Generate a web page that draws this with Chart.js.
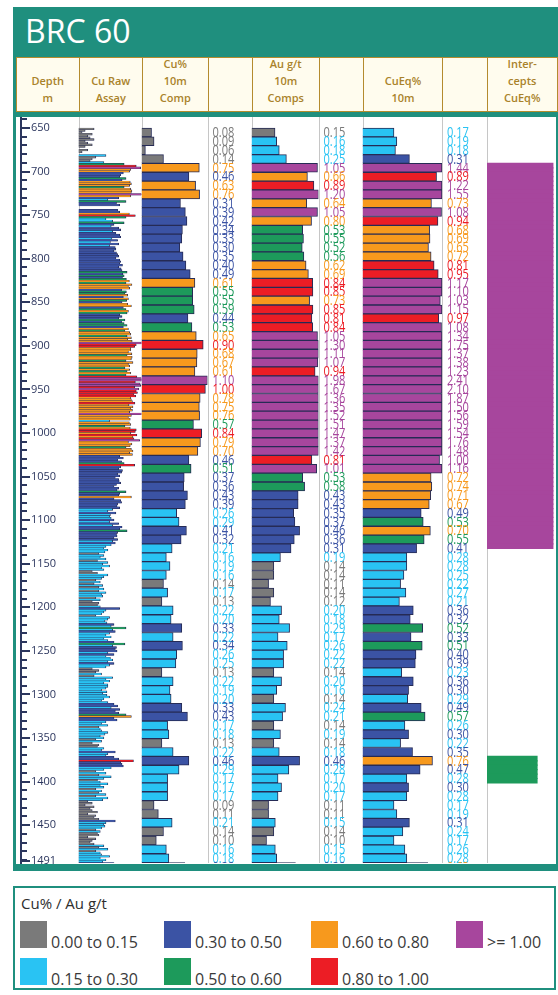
<!DOCTYPE html>
<html>
<head>
<meta charset="utf-8">
<title>BRC 60</title>
<script src="https://cdn.jsdelivr.net/npm/chart.js@4.4.1/dist/chart.umd.min.js"></script>
<style>
  html, body { margin:0; padding:0; background:#ffffff; }
  body { width:558px; height:995px; position:relative; overflow:hidden; font-family:"Open Sans", sans-serif; }
  #frame { position:absolute; left:13px; top:7px; width:545px; height:864px; background:#1f8f7e; }
  #title { position:absolute; left:25px; top:15px; color:#ffffff; font-size:32px; line-height:32px; }
  #plotBg { position:absolute; left:15.5px; top:117px; width:540.5px; height:746.5px; background:#ffffff; }
  .hcell { position:absolute; top:57px; height:55px; box-sizing:border-box; border:1.5px solid #b48b2e;
           background:#fffcee; color:#a9822a; font-size:11px; font-weight:600; line-height:17px;
           text-align:center; display:flex; flex-direction:column; justify-content:flex-end; padding-bottom:5px; }
  #chartCanvas { position:absolute; left:15px; top:117px; }
  #legend { position:absolute; left:13px; top:886px; width:543px; height:104px; box-sizing:border-box;
            border:2.5px solid #1f8f7e; background:#ffffff; }
  #legendTitle { position:absolute; left:21px; top:893px; font-size:15px; line-height:20px; color:#2e2e2e; }
  .lsw { position:absolute; width:27px; height:27px; }
  .ltx { position:absolute; font-size:16px; line-height:20px; color:#3a3a3a; white-space:nowrap; }
</style>
</head>
<body>
<div id="frame"></div>
<div id="title">BRC 60</div>
<div id="plotBg"></div>
<div id="header"></div>
<canvas id="chartCanvas" width="541" height="760"></canvas>
<div id="legend"></div>
<div id="legendTitle">Cu% / Au g/t</div>
<div id="legendItems"></div>
<script>
// ---------------- DATA ----------------
const DEPTH_FROM = 650;     // top of first composite (m)
const COMP_INTERVAL = 10;   // composite length (m)
const RAW_INTERVAL = 2;     // raw assay plotting interval (m)

const depthTickLabels = [650,700,750,800,850,900,950,1000,1050,1100,1150,1200,1250,1300,1350,1400,1450,1491];

// Cu % 10 m composites, 650 m .. 1480 m
const cuComp = [
  0.08,0.09,0.06,0.14,0.75,0.46,0.63,0.76,0.31,0.39,
  0.42,0.34,0.33,0.30,0.35,0.40,0.49,0.61,0.55,0.55,
  0.59,0.44,0.53,0.65,0.90,0.68,0.67,0.61,1.10,0.997,
  0.78,0.75,0.76,0.57,0.84,0.79,0.70,0.46,0.51,0.37,
  0.36,0.43,0.39,0.26,0.29,0.41,0.32,0.21,0.16,0.19,
  0.16,0.14,0.17,0.13,0.22,0.20,0.33,0.22,0.34,0.26,
  0.25,0.13,0.22,0.19,0.20,0.33,0.43,0.17,0.18,0.13,
  0.22,0.46,0.29,0.17,0.17,0.17,0.09,0.11,0.21,0.14,
  0.10,0.16,0.18,0.38
];
// Au g/t 10 m composites
const auComp = [
  0.148,0.16,0.18,0.25,1.05,0.66,0.89,1.20,0.64,1.05,
  0.798,0.53,0.55,0.52,0.56,0.62,0.69,0.84,0.85,0.73,
  0.85,0.81,0.84,1.05,1.30,1.11,1.07,0.94,1.98,1.67,
  1.36,1.35,1.52,1.51,1.47,1.37,1.42,0.81,1.01,0.53,
  0.58,0.43,0.43,0.35,0.37,0.46,0.36,0.31,0.19,0.14,
  0.14,0.11,0.14,0.12,0.20,0.18,0.29,0.17,0.26,0.22,
  0.22,0.14,0.20,0.16,0.14,0.24,0.21,0.14,0.19,0.14,
  0.18,0.46,0.28,0.17,0.20,0.17,0.11,0.11,0.15,0.14,
  0.10,0.15,0.16,0.38
];
// CuEq % 10 m composites
const cuEqComp = [
  0.17,0.19,0.18,0.31,1.44,0.89,1.22,1.55,0.73,1.08,
  0.94,0.68,0.69,0.65,0.72,0.81,0.95,1.17,1.10,1.03,
  1.15,0.97,1.08,1.34,1.75,1.37,1.38,1.23,2.41,2.10,
  1.87,1.50,1.56,1.59,1.54,1.76,1.48,1.00,1.16,0.72,
  0.74,0.71,0.67,0.49,0.53,0.70,0.55,0.41,0.28,0.28,
  0.25,0.22,0.27,0.21,0.36,0.32,0.52,0.33,0.51,0.40,
  0.39,0.23,0.36,0.30,0.29,0.49,0.57,0.26,0.30,0.22,
  0.35,0.76,0.47,0.28,0.30,0.28,0.17,0.19,0.31,0.24,
  0.17,0.26,0.28,0.63
];
// Cu % raw assays (2 m), 650 m .. 1490 m
const rawCu = [
  0.11,0.07,0.06,0.10,0.08, 0.09,0.11,0.07,0.08,0.10,
  0.07,0.05,0.08,0.06,0.04, 0.20,0.12,0.10,0.09,0.18,
  0.50,0.92,1.15,0.70,0.66, 0.48,0.42,0.40,0.55,0.45,
  0.68,0.72,0.66,0.50,0.70, 0.74,0.72,1.25,0.70,0.38,
  0.22,0.55,0.34,0.40,0.04, 0.04,0.36,0.40,0.65,0.88,
  0.55,0.20,0.28,0.50,0.30, 0.26,0.38,0.42,0.28,0.33,
  0.40,0.42,0.27,0.36,0.25, 0.38,0.24,0.32,0.33,0.30,
  0.34,0.36,0.38,0.33,0.40, 0.42,0.40,0.46,0.38,0.43,
  0.45,0.58,0.47,0.50,0.46, 0.56,0.65,0.55,0.74,0.62,
  0.66,0.44,0.56,0.52,0.60, 0.48,0.62,0.57,0.45,0.60,
  0.72,0.48,0.55,0.62,0.58, 0.40,0.45,0.38,0.52,0.44,
  0.50,0.58,0.48,0.62,0.52, 0.66,0.70,0.58,0.72,0.60,
  0.75,1.25,0.92,0.85,0.70, 0.70,0.62,0.74,0.58,0.75,
  0.72,0.55,0.78,0.62,0.66, 0.52,0.66,0.58,0.70,0.55,
  0.95,1.35,1.20,0.88,1.12, 1.15,0.85,1.05,0.92,0.98,
  0.82,0.90,0.70,0.72,0.76, 0.86,0.64,0.78,0.70,0.76,
  0.66,1.20,0.72,0.62,0.68, 0.24,0.65,0.70,0.52,0.68,
  0.92,0.88,0.70,0.95,0.78, 0.82,1.10,0.62,0.74,0.68,
  0.55,0.72,0.78,0.66,0.76, 0.40,0.48,0.36,0.44,0.50,
  0.85,0.42,0.38,0.46,0.44, 0.36,0.40,0.32,0.38,0.39,
  0.42,0.34,0.30,0.38,0.35, 0.55,0.40,0.38,0.72,0.30,
  0.42,0.44,0.36,0.35,0.40, 0.28,0.22,0.33,0.25,0.24,
  0.26,0.30,0.24,0.38,0.28, 0.45,0.40,0.58,0.36,0.34,
  0.35,0.30,0.36,0.28,0.32, 0.26,0.20,0.18,0.22,0.19,
  0.14,0.18,0.15,0.20,0.13, 0.22,0.17,0.24,0.16,0.18,
  0.10,0.13,0.22,0.18,0.16, 0.12,0.15,0.11,0.17,0.14,
  0.18,0.14,0.20,0.16,0.17, 0.12,0.15,0.10,0.14,0.13,
  0.15,0.40,0.20,0.18,0.16, 0.12,0.24,0.22,0.19,0.21,
  0.30,0.26,0.55,0.28,0.32, 0.24,0.20,0.26,0.18,0.22,
  0.30,0.52,0.28,0.34,0.32, 0.35,0.22,0.30,0.20,0.25,
  0.28,0.22,0.30,0.24,0.20, 0.10,0.14,0.12,0.16,0.11,
  0.28,0.20,0.24,0.18,0.22, 0.22,0.20,0.16,0.21,0.17,
  0.21,0.24,0.18,0.16,0.22, 0.30,0.36,0.26,0.40,0.32,
  0.38,0.55,0.72,0.30,0.35, 0.20,0.16,0.22,0.14,0.15,
  0.16,0.22,0.19,0.15,0.18, 0.12,0.16,0.10,0.14,0.13,
  0.18,0.16,0.32,0.22,0.20, 0.30,0.38,0.80,0.42,0.45,
  0.48,0.26,0.18,0.12,0.20, 0.14,0.26,0.18,0.13,0.15,
  0.22,0.15,0.18,0.12,0.16, 0.14,0.20,0.12,0.22,0.17,
  0.08,0.10,0.07,0.11,0.09, 0.10,0.13,0.08,0.12,0.11,
  0.14,0.32,0.20,0.18,0.19, 0.16,0.12,0.15,0.13,0.14,
  0.08,0.12,0.10,0.09,0.11, 0.18,0.14,0.22,0.12,0.15,
  0.16,0.24,0.15,0.20,0.17, 0.30,0.42,0.35,0.40,0.38
];
// Significant intercepts (CuEq %)
const interceptFrom = [690, 1360];
const interceptTo   = [1125, 1390];
const interceptCuEq = [1.12, 0.53];

// Grade classes (Cu% / Au g/t / CuEq%)
const classLower  = [0, 0.15, 0.30, 0.50, 0.60, 0.80, 1.00];
const classLabels = ['0.00 to 0.15','0.15 to 0.30','0.30 to 0.50','0.50 to 0.60','0.60 to 0.80','0.80 to 1.00','>= 1.00'];
const classColors = ['#7a7a7a','#29c3f3','#3b53a4','#1d9a5b','#f7991d','#ec1d25','#a7469d'];

const headerTitles = ['Depth\nm','Cu Raw\nAssay','Cu%\n10m\nComp','','Au g/t\n10m\nComps','','CuEq%\n10m','','Inter-\ncepts\nCuEq%'];

// ---------------- STYLE / LAYOUT ----------------
const HEADER_EDGES = [15.5, 78.5, 141.5, 207.5, 251.5, 318.5, 362.5, 442, 487, 556];
const AXIS_X = 21;
const AXIS_COLOR = '#2c365e';
const RULE_COLOR = '#c6c6c6';
const BAR_EDGE = '#262b55';
const INTERCEPT_STEP = 5;
const COLUMN_SCALES = ['xDepthCol','xRaw','xCu','xCuLbl','xAu','xAuLbl','xEq','xEqLbl','xInt'];
const COLUMN_TYPES  = ['linear','logarithmic','logarithmic','linear','logarithmic','linear','logarithmic','linear','logarithmic'];
const COLUMN_RANGE  = { xRaw:[0.05,1.2], xCu:[0.05,1.1], xAu:[0.05,1.1], xEq:[0.05,1.1], xInt:[0.05,1.3] };
const BAR_AXIS = { min: 637.57, max: 1480.5 };
const DEPTH_AXIS = { min: 637.38, max: 1493.4 };

// ---------------- HEADER & LEGEND (HTML) ----------------
const header = document.getElementById('header');
headerTitles.forEach((t, i) => {
  const d = document.createElement('div');
  d.className = 'hcell';
  d.style.left = HEADER_EDGES[i] + 'px';
  d.style.width = (HEADER_EDGES[i + 1] - HEADER_EDGES[i] + 1.5) + 'px';
  t.split('\n').filter(s => s.length).forEach(line => { const s = document.createElement('div'); s.textContent = line; d.appendChild(s); });
  header.appendChild(d);
});
const LEG_X = [20, 164, 311, 456], LEG_Y = [921, 958];
const legendItems = document.getElementById('legendItems');
classLabels.forEach((lab, i) => {
  const col = Math.floor(i / 2), row = i % 2;
  const sw = document.createElement('div');
  sw.className = 'lsw'; sw.style.left = LEG_X[col] + 'px'; sw.style.top = LEG_Y[row] + 'px'; sw.style.background = classColors[i];
  const tx = document.createElement('div');
  tx.className = 'ltx'; tx.style.left = (LEG_X[col] + 31) + 'px'; tx.style.top = (LEG_Y[row] + 10.5) + 'px'; tx.textContent = lab;
  legendItems.appendChild(sw); legendItems.appendChild(tx);
});

// ---------------- CHART ----------------
function classColor(v) { let k = 0; classLower.forEach((lo, i) => { if (v >= lo) k = i; }); return classColors[k]; }
const clampTo = (v, r) => Math.min(Math.max(v, r[0]), r[1]);

function compDataset(label, values, xId, lblId) {
  return {
    label, xAxisID: xId, yAxisID: 'yComp', labelAxis: lblId, values,
    data: values.map((v, i) => ({ x: clampTo(v, COLUMN_RANGE[xId]), y: DEPTH_FROM + (i + 0.5) * COMP_INTERVAL })),
    backgroundColor: values.map(classColor),
    borderColor: BAR_EDGE, borderWidth: 1,
    grouped: false, barPercentage: 1, categoryPercentage: 1
  };
}
const interceptBars = [];
interceptFrom.forEach((from, k) => {
  for (let d = from; d < interceptTo[k]; d += INTERCEPT_STEP)
    interceptBars.push({ x: clampTo(interceptCuEq[k], COLUMN_RANGE.xInt), y: d + INTERCEPT_STEP / 2, c: classColor(interceptCuEq[k]) });
});

const datasets = [
  {
    label: 'Cu Raw Assay', xAxisID: 'xRaw', yAxisID: 'yRaw',
    data: rawCu.map((v, i) => ({ x: clampTo(v, COLUMN_RANGE.xRaw), y: DEPTH_FROM + (i + 0.5) * RAW_INTERVAL })),
    backgroundColor: rawCu.map(classColor),
    borderColor: BAR_EDGE, borderWidth: { top: 0.35, bottom: 0.35, right: 0.8, left: 0 },
    grouped: false, barPercentage: 1, categoryPercentage: 1
  },
  compDataset('Cu% 10m Comp', cuComp, 'xCu', 'xCuLbl'),
  compDataset('Au g/t 10m Comps', auComp, 'xAu', 'xAuLbl'),
  compDataset('CuEq% 10m', cuEqComp, 'xEq', 'xEqLbl'),
  {
    label: 'Intercepts CuEq%', xAxisID: 'xInt', yAxisID: 'yInt',
    data: interceptBars.map(b => ({ x: b.x, y: b.y })),
    backgroundColor: interceptBars.map(b => b.c),
    borderWidth: 0, inflateAmount: 0.6,
    grouped: false, barPercentage: 1, categoryPercentage: 1
  }
];

const scales = {
  depth: {
    type: 'linear', position: 'left', min: DEPTH_AXIS.min, max: DEPTH_AXIS.max, reverse: true, offset: false,
    afterFit(s) { s.width = AXIS_X - 15; s.paddingTop = 0; s.paddingBottom = 0; },
    afterBuildTicks(s) { s.ticks = depthTickLabels.map(v => ({ value: v })); },
    grid: { display: false },
    border: { display: true, color: AXIS_COLOR, width: 2 },
    ticks: { mirror: true, padding: 10, autoSkip: false, color: AXIS_COLOR, font: { size: 11 }, callback: v => String(v) }
  }
};
['yComp','yRaw','yInt'].forEach(id => {
  scales[id] = { type: 'linear', position: 'left', min: BAR_AXIS.min, max: BAR_AXIS.max, reverse: true, offset: false, display: false, ticks: { stepSize: 100 } };
});
const colLeft = [AXIS_X].concat(HEADER_EDGES.slice(1, -1));
COLUMN_SCALES.forEach((id, i) => {
  const next = HEADER_EDGES[i + 1];
  const sc = { type: COLUMN_TYPES[i], position: 'bottom', stack: 'columns', stackWeight: next - colLeft[i], weight: i, display: false, offset: false, beginAtZero: false };
  if (COLUMN_RANGE[id]) { sc.min = COLUMN_RANGE[id][0]; sc.max = COLUMN_RANGE[id][1]; }
  else { sc.min = 0; sc.max = 1; }
  scales[id] = sc;
});

const columnRules = {
  id: 'columnRules',
  beforeDatasetsDraw(chart) {
    const { ctx, chartArea } = chart;
    ctx.save(); ctx.strokeStyle = RULE_COLOR; ctx.lineWidth = 1;
    COLUMN_SCALES.slice(1).forEach(id => {
      const x = Math.round(chart.scales[id].left) + 0.5;
      ctx.beginPath(); ctx.moveTo(x, chartArea.top); ctx.lineTo(x, chartArea.bottom); ctx.stroke();
    });
    ctx.restore();
  }
};
const valueLabels = {
  id: 'valueLabels',
  afterDatasetsDraw(chart) {
    const { ctx, chartArea } = chart;
    ctx.save();
    ctx.beginPath(); ctx.rect(chartArea.left, chartArea.top, chartArea.width, chartArea.height); ctx.clip();
    ctx.font = '15px "Open Sans"'; ctx.textBaseline = 'middle'; ctx.textAlign = 'left';
    chart.data.datasets.forEach((ds, i) => {
      if (!ds.labelAxis) return;
      const meta = chart.getDatasetMeta(i);
      const xs = chart.scales[ds.labelAxis];
      ds.values.forEach((v, j) => {
        const bar = meta.data[j];
        ctx.fillStyle = classColor(v);
        ctx.save(); ctx.translate(xs.left + 5, bar.y + 0.5); ctx.scale(0.74, 1);
        ctx.fillText(v.toFixed(2), 0, 0); ctx.restore();
      });
    });
    ctx.restore();
  }
};
const depthTickMarks = {
  id: 'depthTickMarks',
  afterDraw(chart) {
    const s = chart.scales.depth, ctx = chart.ctx;
    ctx.save(); ctx.strokeStyle = AXIS_COLOR; ctx.lineWidth = 2;
    const x0 = s.right;
    const mark = (v, len) => { const y = Math.round(s.getPixelForValue(v)); ctx.beginPath(); ctx.moveTo(x0, y); ctx.lineTo(x0 + len, y); ctx.stroke(); };
    for (let v = 640; v <= 1490; v += COMP_INTERVAL) mark(v, 6);
    depthTickLabels.forEach(v => mark(v, 9));
    ctx.restore();
  }
};

Chart.defaults.font.family = '"Open Sans", sans-serif';
new Chart(document.getElementById('chartCanvas'), {
  type: 'bar',
  data: { datasets },
  options: {
    indexAxis: 'y', responsive: false, maintainAspectRatio: false, animation: false, devicePixelRatio: 1,
    events: [],
    layout: { padding: { top: 0, right: 0, bottom: 14, left: 0 } },
    plugins: { legend: { display: false }, tooltip: { enabled: false }, title: { display: false } },
    scales
  },
  plugins: [columnRules, valueLabels, depthTickMarks]
});
</script>
</body>
</html>
